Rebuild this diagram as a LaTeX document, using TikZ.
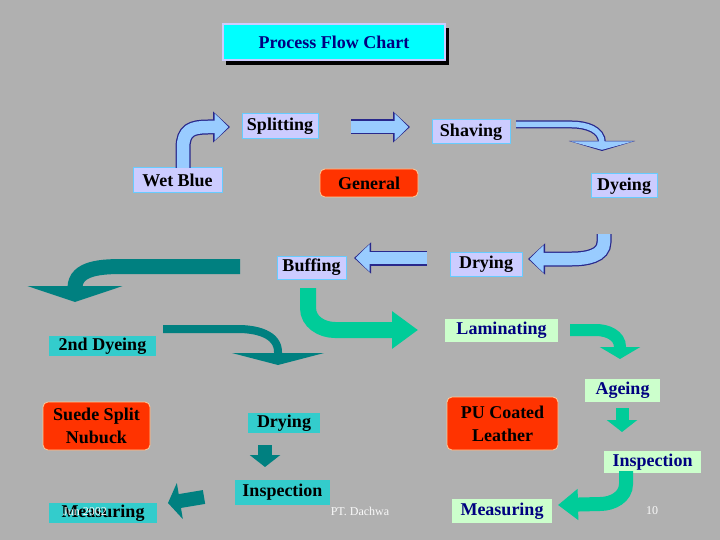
\documentclass[tikz,border=0pt]{standalone}
\usepackage{fontspec}
\setmainfont{Liberation Serif}
\usetikzlibrary{arrows.meta}
\definecolor{bg}{RGB}{176,176,176}
\definecolor{lav}{RGB}{204,204,255}
\definecolor{lavb}{RGB}{102,204,255}
\definecolor{ltb}{RGB}{153,204,255}
\definecolor{nav}{RGB}{0,0,128}
\definecolor{nav2}{RGB}{40,40,140}
\definecolor{tealc}{RGB}{51,204,204}
\definecolor{teald}{RGB}{0,128,128}
\definecolor{grn}{RGB}{0,204,153}
\definecolor{pgrn}{RGB}{204,255,204}
\definecolor{redc}{RGB}{255,51,0}
\definecolor{redb}{RGB}{255,204,153}
\definecolor{cyn}{RGB}{0,255,255}
\tikzset{
 lbox/.style={fill=lav,draw=lavb,line width=1pt,inner sep=0pt,font=\bfseries\fontsize{18}{20}\selectfont,text=black},
 cbox/.style={fill=tealc,inner sep=0pt,font=\bfseries\fontsize{18}{20}\selectfont,text=black},
 gbox/.style={fill=pgrn,inner sep=0pt,font=\bfseries\fontsize{18}{20}\selectfont,text=nav},
 rbox/.style={fill=redc,draw=redb,line width=0.8pt,rounded corners=5pt,inner sep=0pt,font=\bfseries\fontsize{18}{23}\selectfont,text=black,align=center},
 foot/.style={text=white!92!bg,font=\fontsize{12}{14}\selectfont},
 bout/.style={draw=nav2,line width=15pt,-{Triangle[width=30pt,length=17pt]}},
 bin/.style={draw=ltb,line width=12.5pt,shorten >=1.5pt,-{Triangle[width=26.5pt,length=14pt]}},
}
\newcommand\barrow[1]{\draw[bout] #1; \draw[bin] #1;}
\begin{document}
\begin{tikzpicture}[x=1pt,y=-1pt]
\fill[bg] (0,0) rectangle (720,540);
\useasboundingbox (0,0) rectangle (720,540);
% title
\fill[black] (226,28) rectangle (449,65);
\node[fill=cyn,draw=lav,line width=2.5pt,minimum width=222,minimum height=36,inner sep=0pt,text=nav,font=\bfseries\fontsize{18}{20}\selectfont] (title) at (334,42) {Process Flow Chart};
% nodes
\node[lbox,minimum width=76,minimum height=25] (split) at (280,126.5) {Splitting};
\node[lbox,minimum width=78,minimum height=24] (shav) at (471,132) {Shaving};
\node[lbox,minimum width=89,minimum height=25] (wet) at (177.5,180.5) {Wet Blue};
\node[rbox,minimum width=98,minimum height=28] (gen) at (369,183) {General};
\node[lbox,minimum width=66,minimum height=24] (dye) at (624,186) {Dyeing};
\node[lbox,minimum width=69,minimum height=23] (buff) at (311.5,267.5) {Buffing};
\node[lbox,minimum width=72,minimum height=24] (dry) at (486,264) {Drying};
\node[gbox,minimum width=113,minimum height=23] (lam) at (501.5,330.5) {Laminating};
\node[cbox,minimum width=107,minimum height=20] (dye2) at (102.5,346) {2nd Dyeing};
\node[rbox,minimum width=107,minimum height=48] (suede) at (96.5,426) {Suede Split\\Nubuck};
\node[cbox,minimum width=72,minimum height=20] (dry2) at (284,423) {Drying};
\node[rbox,minimum width=111,minimum height=53] (pu) at (502.5,423.5) {PU Coated\\Leather};
\node[gbox,minimum width=75,minimum height=23] (age) at (622.5,390.5) {Ageing};
\node[gbox,minimum width=97,minimum height=22] (insr) at (652.5,462) {Inspection};
\node[cbox,minimum width=95,minimum height=25] (insl) at (282.5,492.5) {Inspection};
\node[cbox,minimum width=108,minimum height=20] (measl) at (103,513) {Measuring};
\node[gbox,minimum width=100,minimum height=24] (measr) at (502,511) {Measuring};
\node[foot] (f1) at (85,512) {Jun 2002};
\node[foot] (f2) at (360,511) {PT. Dachwa};
\node[foot] (f3) at (652,511) {10};
% blue block arrows
\barrow{(183,168) -- (183,148) .. controls (183,130) and (192,127) .. (208,127) -- (230,127)}
\barrow{(351,127) -- (410,127)}
\draw[draw=nav2,line width=8pt,-{Triangle[width=66pt,length=10pt]}] (516,124.5) -- (572,124.5) to[out=0,in=90] (602,143) -- (602,151);
\draw[draw=ltb,line width=5.5pt,shorten >=1.2pt,-{Triangle[width=63pt,length=8.5pt]}] (516,124.5) -- (572,124.5) to[out=0,in=90] (602,143) -- (602,151);
\barrow{(604,234) -- (604,242) to[out=-90,in=0] (572,259) -- (528,259)}
\barrow{(427,258) -- (354,258)}
% teal arrows
\draw[teald,line width=15pt,-{Triangle[width=95pt,length=16pt]}] (240,266.5) -- (125,266.5) to[out=180,in=90] (75,288) -- (75,302);
\draw[teald,line width=8pt,-{Triangle[width=92pt,length=12pt]}] (163,329) -- (238,329) to[out=0,in=90] (278,352) -- (278,365);
\draw[teald,line width=14pt,-{Triangle[width=30pt,length=12pt]}] (265,445) -- (265,467);
\draw[teald,line width=14pt,-{Triangle[width=36pt,length=12pt]}] (204,497) -- (168,503);
% green arrows
\draw[grn,line width=16pt,-{Triangle[width=36pt,length=26pt]}] (308,288) -- (308,308) to[out=-90,in=180] (335,330) -- (418,330);
\draw[grn,line width=12pt,-{Triangle[width=40pt,length=12pt]}] (570,330) -- (596,330) to[out=0,in=90] (620,347) -- (620,359);
\draw[grn,line width=13pt,-{Triangle[width=30pt,length=12pt]}] (622,408) -- (622,432);
\draw[grn,line width=14pt,-{Triangle[width=30pt,length=20pt]}] (626,471) -- (626,484) to[out=-90,in=0] (600,504) -- (558,505);
\end{tikzpicture}
\end{document}
